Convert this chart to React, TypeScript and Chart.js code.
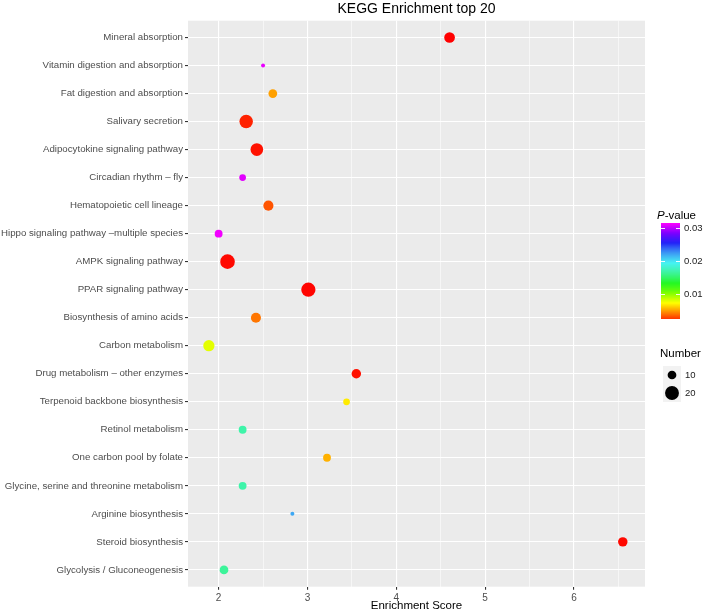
import React, { useEffect, useRef } from "react";
import { Chart, registerables } from "chart.js";

Chart.register(...registerables);

const chartTitle = "KEGG Enrichment top 20";
const xAxisTitle = "Enrichment Score";

const pathways = [
  "Mineral absorption",
  "Vitamin digestion and absorption",
  "Fat digestion and absorption",
  "Salivary secretion",
  "Adipocytokine signaling pathway",
  "Circadian rhythm \u2013 fly",
  "Hematopoietic cell lineage",
  "Hippo signaling pathway \u2013multiple species",
  "AMPK signaling pathway",
  "PPAR signaling pathway",
  "Biosynthesis of amino acids",
  "Carbon metabolism",
  "Drug metabolism \u2013 other enzymes",
  "Terpenoid backbone biosynthesis",
  "Retinol metabolism",
  "One carbon pool by folate",
  "Glycine, serine and threonine metabolism",
  "Arginine biosynthesis",
  "Steroid biosynthesis",
  "Glycolysis / Gluconeogenesis",
];

const enrichmentScores = [
  4.6, 2.5, 2.61, 2.31, 2.43, 2.27, 2.56, 2.0, 2.1, 3.01,
  2.42, 1.89, 3.55, 3.44, 2.27, 3.22, 2.27, 2.83, 6.55, 2.06,
];

const geneCounts = [
  13, 7, 10, 19, 17, 8, 12, 9, 22, 21,
  12, 14, 11, 8, 9, 9, 9, 7, 11, 10,
];

const pValues = [
  0.0012, 0.0310, 0.0050, 0.0020, 0.0016, 0.0308, 0.0032, 0.0312, 0.0014, 0.0013,
  0.0040, 0.0079, 0.0016, 0.0068, 0.0169, 0.0054, 0.0169, 0.0219, 0.0014, 0.0164,
];

const xMajorTicks = [2, 3, 4, 5, 6];
const xMinorTicks = [2.5, 3.5, 4.5, 5.5, 6.5];
const pValueTicks = [0.01, 0.02, 0.03];
const pValueTickLabels = ["0.01", "0.02", "0.03"];
const numberLegendValues = [10, 20];

const FONT = '"Liberation Sans", Arial, Helvetica, sans-serif';

const P_LO = 0.0012;
const P_HI = 0.0315;
function pColor(p: number): string {
  const f = Math.max(0, Math.min(1, (p - P_LO) / (P_HI - P_LO)));
  const hue = 300 * f;
  let bump = 0;
  if (hue > 90 && hue < 270) bump = Math.sin(((hue - 90) / 180) * Math.PI);
  const L = 50 + 11 * bump;
  const S = 100 - 12 * bump;
  return `hsl(${hue.toFixed(1)}, ${S.toFixed(1)}%, ${L.toFixed(1)}%)`;
}

const N_MIN = 7;
const N_MAX = 22;
const R_MIN = 2;
const R_MAX = 7.3;
function radiusFor(n: number): number {
  const f = Math.max(0, Math.min(1, (n - N_MIN) / (N_MAX - N_MIN)));
  return R_MIN + (R_MAX - R_MIN) * Math.sqrt(f);
}

const W = 706;
const H = 614;
const PLOT_LEFT = 188;
const PLOT_RIGHT = 645;
const PLOT_TOP = 20.7;
const PLOT_BOTTOM = 586.7;

const panelPlugin = {
  id: "panelBg",
  beforeDraw(chart: any) {
    const { ctx, chartArea } = chart;
    ctx.save();
    ctx.fillStyle = "#EBEBEB";
    ctx.fillRect(chartArea.left, chartArea.top, chartArea.right - chartArea.left, chartArea.bottom - chartArea.top);
    ctx.restore();
  },
  afterDraw(chart: any) {
    const { ctx, chartArea } = chart;
    ctx.save();
    // Title
    ctx.fillStyle = "#000";
    ctx.font = `14px ${FONT}`;
    ctx.textAlign = "center";
    ctx.textBaseline = "middle";
    ctx.fillText(chartTitle, (chartArea.left + chartArea.right) / 2, 9);

    // P-value colour bar
    const barX = 661;
    const barW = 19;
    const yOf = (p: number) => 294 - ((p - 0.01) / 0.01) * 33;
    const pTop = 0.0315;
    const pBot = 0.0027;
    const yTop = yOf(pTop);
    const yBot = yOf(pBot);
    for (let y = Math.floor(yTop); y < Math.ceil(yBot); y++) {
      const p = 0.01 + ((294 - (y + 0.5)) / 33) * 0.01;
      ctx.fillStyle = pColor(p);
      ctx.fillRect(barX, y, barW, 1);
    }
    ctx.strokeStyle = "rgba(255,255,255,0.9)";
    ctx.lineWidth = 1;
    pValueTicks.forEach((p) => {
      const y = Math.round(yOf(p)) + 0.5;
      ctx.beginPath();
      ctx.moveTo(barX, y);
      ctx.lineTo(barX + 4, y);
      ctx.moveTo(barX + barW - 4, y);
      ctx.lineTo(barX + barW, y);
      ctx.stroke();
    });
    ctx.fillStyle = "#1a1a1a";
    ctx.font = `9.5px ${FONT}`;
    ctx.textAlign = "left";
    ctx.textBaseline = "middle";
    pValueTicks.forEach((p, i) => {
      ctx.fillText(pValueTickLabels[i], barX + barW + 4, yOf(p));
    });
    // P-value title with italic P
    ctx.font = `italic 11.5px ${FONT}`;
    ctx.fillStyle = "#000";
    ctx.textBaseline = "alphabetic";
    const titleY = 219;
    const pW = ctx.measureText("P").width;
    ctx.fillText("P", 657, titleY);
    ctx.font = `11.5px ${FONT}`;
    ctx.fillText("-value", 657 + pW, titleY);

    // Number legend
    ctx.font = `11.5px ${FONT}`;
    ctx.fillStyle = "#000";
    ctx.textAlign = "left";
    ctx.fillText("Number", 660, 357);
    const keyX = 663;
    const keySize = 18;
    numberLegendValues.forEach((n, i) => {
      const ky = 366 + i * keySize;
      ctx.fillStyle = "#F2F2F2";
      ctx.fillRect(keyX, ky, keySize, keySize);
      ctx.fillStyle = "#000";
      ctx.beginPath();
      ctx.arc(keyX + keySize / 2, ky + keySize / 2, radiusFor(n), 0, Math.PI * 2);
      ctx.fill();
      ctx.fillStyle = "#1a1a1a";
      ctx.font = `9.5px ${FONT}`;
      ctx.textBaseline = "middle";
      ctx.fillText(String(n), keyX + keySize + 4, ky + keySize / 2);
      ctx.textBaseline = "alphabetic";
    });
    ctx.restore();
  },
};

export default function App() {
  const canvasRef = useRef<HTMLCanvasElement | null>(null);

  useEffect(() => {
    if (!canvasRef.current) return;
    Chart.defaults.font.family = FONT;
    const xTickAll = [...xMajorTicks, ...xMinorTicks].sort((a, b) => a - b);
    const chart = new Chart(canvasRef.current, {
      type: "scatter",
      data: {
        datasets: [
          {
            data: pathways.map((_, i) => ({ x: enrichmentScores[i], y: i })),
            pointRadius: (c: any) => radiusFor(geneCounts[c.dataIndex]),
            pointHoverRadius: (c: any) => radiusFor(geneCounts[c.dataIndex]),
            backgroundColor: (c: any) => pColor(pValues[c.dataIndex]),
            pointBackgroundColor: (c: any) => pColor(pValues[c.dataIndex]),
            borderWidth: 0,
            pointBorderWidth: 0,
          } as any,
        ],
      },
      options: {
        responsive: false,
        animation: false,
        layout: { padding: { top: PLOT_TOP, right: W - PLOT_RIGHT, bottom: 0, left: 0 } },
        plugins: {
          legend: { display: false },
          tooltip: { enabled: false },
          title: { display: false },
        },
        scales: {
          x: {
            type: "linear",
            min: 1.655,
            max: 6.8,
            afterBuildTicks: (s: any) => {
              s.ticks = xTickAll.map((v) => ({ value: v }));
            },
            afterFit: (s: any) => {
              s.height = H - PLOT_BOTTOM;
            },
            ticks: {
              autoSkip: false,
              maxRotation: 0,
              padding: 2.5,
              color: "#4D4D4D",
              font: { size: 10, family: FONT },
              callback: (v: any) => (Number.isInteger(v) ? String(v) : ""),
            },
            grid: {
              color: "#FFFFFF",
              lineWidth: (c: any) => (c.tick && Number.isInteger(c.tick.value) ? 1.1 : 0.55),
              tickColor: (c: any) => (c.tick && Number.isInteger(c.tick.value) ? "#333333" : "rgba(0,0,0,0)"),
              tickLength: 3,
              drawTicks: true,
            },
            border: { display: false },
            title: {
              display: true,
              text: xAxisTitle,
              color: "#000",
              font: { size: 11.5, family: FONT },
              padding: { top: 0, bottom: 1.5 },
            },
          },
          y: {
            type: "linear",
            reverse: true,
            min: -0.6,
            max: 19.6,
            afterBuildTicks: (s: any) => {
              s.ticks = pathways.map((_, i) => ({ value: i }));
            },
            afterFit: (s: any) => {
              s.width = PLOT_LEFT;
            },
            ticks: {
              autoSkip: false,
              padding: 2,
              color: "#4D4D4D",
              font: { size: 9.7, family: FONT },
              callback: (v: any) => pathways[v] ?? "",
            },
            grid: {
              color: "#FFFFFF",
              lineWidth: 1.1,
              tickColor: "#333333",
              tickLength: 3,
              drawTicks: true,
            },
            border: { display: false },
          },
        },
      },
      plugins: [panelPlugin],
    } as any);
    return () => chart.destroy();
  }, []);

  return (
    <div style={{ position: "absolute", left: 0, top: 0, width: W, height: H, background: "#fff" }}>
      <canvas ref={canvasRef} width={W} height={H} style={{ width: W, height: H, display: "block" }} />
    </div>
  );
}
